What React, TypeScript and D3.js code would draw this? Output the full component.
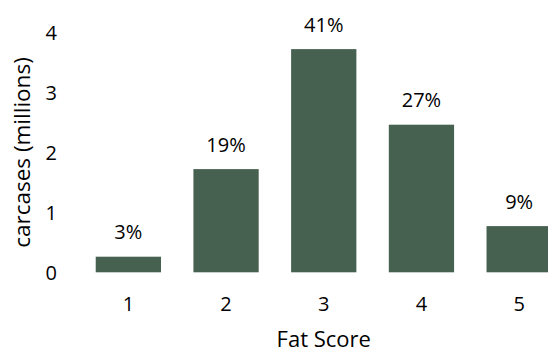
import React from "react";
import * as d3 from "d3";

const categories = ["1", "2", "3", "4", "5"];
const carcases = [0.26, 1.72, 3.72, 2.46, 0.77];
const shareLabels = ["3%", "19%", "41%", "27%", "9%"];
const yTicks = [0, 1, 2, 3, 4];

const W = 548;
const H = 353;
const FONT = "'Open Sans', 'Noto Sans', sans-serif";

export default function App() {
  const x = d3
    .scaleBand<string>()
    .domain(categories)
    .range([79.5, 568])
    .paddingInner(0.332)
    .paddingOuter(0.166);
  const y = d3.scaleLinear().domain([0, 4]).range([272.3, 32.3]);
  const bw = x.bandwidth();

  return (
    <svg
      width={W}
      height={H}
      style={{ position: "absolute", left: 0, top: 0, background: "#fff" }}
      fontFamily={FONT}
    >
      {categories.map((c, i) => (
        <g key={c}>
          <rect
            x={x(c)!}
            y={y(carcases[i])}
            width={bw}
            height={y(0) - y(carcases[i])}
            fill="#476151"
          />
          <text
            x={x(c)! + bw / 2}
            y={y(carcases[i]) - 17.6}
            textAnchor="middle"
            fontSize={20}
            fill="#000"
          >
            {shareLabels[i]}
          </text>
          <text x={x(c)! + bw / 2} y={311} textAnchor="middle" fontSize={20} fill="#000">
            {c}
          </text>
        </g>
      ))}
      {yTicks.map((t) => (
        <text key={t} x={57} y={y(t) + 7.5} textAnchor="end" fontSize={20} fill="#000">
          {t}
        </text>
      ))}
      <text x={x("3")! + bw / 2} y={346.5} textAnchor="middle" fontSize={22} fill="#000">
        Fat Score
      </text>
      <text
        transform={`translate(30,152.5) rotate(-90)`}
        textAnchor="middle"
        fontSize={22.5}
        fill="#000"
      >
        carcases (millions)
      </text>
    </svg>
  );
}
